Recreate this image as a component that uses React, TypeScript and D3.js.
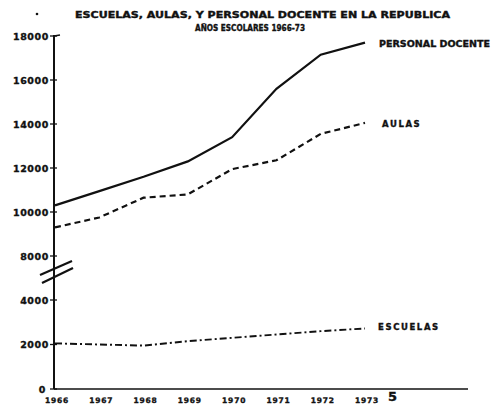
import React from 'react';
import * as d3 from 'd3';

// school years on the x axis
const years = [1966, 1967, 1968, 1969, 1970, 1971, 1972, 1973];
const yearLabels = ['1966', '1967', '1968', '1969', '1970', '1971', '1972', '1973'];

// series
const personalDocente = [10300, 10950, 11600, 12300, 13400, 15600, 17150, 17700];
const aulas = [9300, 9750, 10650, 10800, 11950, 12350, 13550, 14050];
const escuelas = [2050, 2000, 1950, 2150, 2300, 2450, 2600, 2720];

// y axis has a break between 4000 and 8000 (6000 left out)
const yTicks = [0, 2000, 4000, 8000, 10000, 12000, 14000, 16000, 18000];

const W = 493;
const H = 409;
const FONT = '"DejaVu Sans", sans-serif';
const INK = '#111';

// heavy lettering like the stencilled original
const heavy = { fontFamily: FONT, fontWeight: 'bold' as const, fill: INK, stroke: INK, strokeWidth: 0.35 };

export default function App() {
  const x = d3.scaleLinear().domain([1966, 1973]).range([55, 365]);
  // piecewise scale to mimic the broken axis
  const y = d3.scaleLinear().domain([0, 4000, 8000, 18000]).range([389, 300, 256, 36]);

  const line = d3.line<number>()
    .x((_, i) => x(years[i]))
    .y((d) => y(d));

  return (
    <svg width={W} height={H} style={{ position: 'absolute', left: 0, top: 0, background: '#fff' }}>
      <rect width={W} height={H} fill="#fff" />

      {/* title */}
      <circle cx={37} cy={14} r={1.3} fill={INK} />
      <text x={75} y={18} textLength={375} lengthAdjust="spacingAndGlyphs" fontSize={8} {...heavy}>
        ESCUELAS, AULAS, Y PERSONAL DOCENTE EN LA REPUBLICA
      </text>
      <text x={195} y={31} textLength={110} lengthAdjust="spacingAndGlyphs" fontSize={8} {...heavy}>
        AÑOS ESCOLARES 1966-73
      </text>

      {/* axes */}
      <line x1={54} x2={54} y1={y(18000) - 1} y2={y(0)} stroke={INK} strokeWidth={2} />
      <line x1={54} x2={468} y1={y(0)} y2={y(0)} stroke={INK} strokeWidth={1.5} />
      <line x1={54} x2={60} y1={y(18000)} y2={y(18000) - 1} stroke={INK} strokeWidth={1.5} />

      {yTicks.map((t) => (
        <g key={t}>
          <line x1={50} x2={57} y1={y(t)} y2={y(t)} stroke={INK} strokeWidth={1.3} />
          <text x={t === 0 ? 46 : 49} y={y(t) + 3.5} textAnchor="end" fontSize={9.5} letterSpacing={0.6} {...heavy}>
            {t}
          </text>
        </g>
      ))}

      {/* axis break marks */}
      <line x1={40} y1={275} x2={72} y2={261} stroke={INK} strokeWidth={2.2} />
      <line x1={42} y1={283} x2={73} y2={268} stroke={INK} strokeWidth={2.2} />

      {years.map((yr, i) => (
        <text key={yr} x={x(yr) + 2} y={403} textAnchor="middle" fontSize={7.5} letterSpacing={0.8} {...heavy}>
          {yearLabels[i]}
        </text>
      ))}
      <text x={388} y={401} fontSize={13} {...heavy}>5</text>

      {/* series */}
      <path d={line(personalDocente) || ''} fill="none" stroke={INK} strokeWidth={2.2} />
      <path d={line(aulas) || ''} fill="none" stroke={INK} strokeWidth={2.2} strokeDasharray="6,4" />
      <path d={line(escuelas) || ''} fill="none" stroke={INK} strokeWidth={1.9} strokeDasharray="7,3,2,3" />

      {/* series labels */}
      <text x={379} y={47} textLength={111} lengthAdjust="spacingAndGlyphs" fontSize={8.5} {...heavy}>
        PERSONAL DOCENTE
      </text>
      <text x={382} y={127} fontSize={8.5} letterSpacing={1.6} {...heavy}>
        AULAS
      </text>
      <text x={378} y={330} fontSize={8.5} letterSpacing={1.6} {...heavy}>
        ESCUELAS
      </text>
    </svg>
  );
}
